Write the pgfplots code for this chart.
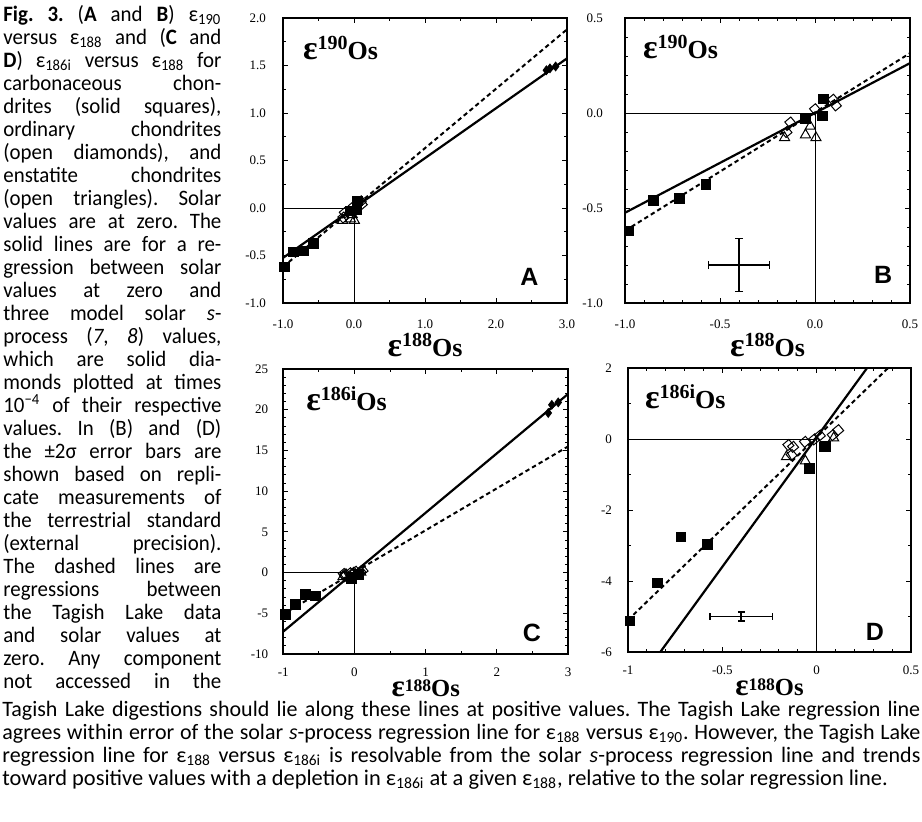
\documentclass[border=0pt]{standalone}
\usepackage{fontspec}
\usepackage{graphicx}
\usepackage{pgfplots}
\pgfplotsset{compat=1.18}
\newfontfamily\capfont{Carlito}
\newfontfamily\colfont[FakeStretch=0.95]{Carlito}
\newfontfamily\serfont{Liberation Serif}
\newfontfamily\panfont{Liberation Sans}
\frenchspacing

\newcommand\ep[1]{ε\textsubscript{#1}}
% bold isotope label, e.g. epsilon^190 Os
\newcommand\iso[1]{{\serfont\bfseries{\fontsize{17}{17}\selectfont ε}\raisebox{4.8pt}{\fontsize{10}{10}\selectfont #1}{\fontsize{13}{13}\selectfont Os}}}
\newcommand\isob[1]{{\serfont\bfseries{\fontsize{15.5}{15.5}\selectfont ε}\raisebox{2.5pt}{\fontsize{8.8}{9}\selectfont #1}{\fontsize{12.3}{12.5}\selectfont Os}}}
% justified line of a given width; squeezed if too long
\newsavebox\linebox
\newcommand\just[2]{\sbox\linebox{#2}\ifdim\wd\linebox>#1\relax
  \resizebox{#1}{\height}{\usebox\linebox}\else\makebox[#1][s]{#2}\fi}
\newcommand\capline[2]{\node[capnode, font=\colfont\fontsize{11}{11.5}\selectfont]
  at (1.5pt,{-(10.5+11.5*(#1-1))*1pt}) {\just{109pt}{#2}};}
\newcommand\botline[2]{\node[capnode] at (1pt,{-(13+11.5*(#1-1))*1pt}) {\just{459pt}{#2}};}

\pgfplotsset{
  osax/.style={scale only axis, anchor=north west, clip mode=individual,
    axis line style={line width=1pt}, tick align=inside,
    major tick length=2.6pt, minor tick length=1.4pt,
    tick style={line width=0.5pt, black},
    /pgf/number format/assume math mode=true,
    tick label style={font=\serfont\fontsize{6.5}{7}\selectfont},
    xticklabel style={yshift=-5pt}},
  onedec/.style={/pgf/number format/.cd, fixed, fixed zerofill, precision=1},
  sqm/.style={only marks, mark=square*, mark size=2.4pt, mark options={fill=black, draw=black}},
  dim/.style={only marks, mark=square, mark size=1.95pt, mark options={rotate=40, fill=white, draw=black, line width=0.5pt}},
  trm/.style={only marks, mark=triangle, mark size=2.9pt, mark options={fill=white, draw=black, line width=0.5pt}},
  mdm/.style={only marks, mark=diamond*, mark size=2.2pt, mark options={fill=black, draw=black}},
  solreg/.style={black, line width=1.1pt},
  tlreg/.style={black, line width=1pt, dash pattern=on 2.2pt off 1.6pt},
  zeroln/.style={black, line width=0.5pt},
  ebar/.style={black, mark=none, error bars/.cd, x dir=both, x explicit,
    y dir=both, y explicit, error bar style={line width=0.75pt},
    error mark options={rotate=90, mark size=#1, line width=0.75pt}},
}

\begin{document}
\begin{tikzpicture}[capnode/.style={anchor=base west, inner sep=0pt,
    font=\capfont\fontsize{11}{11.5}\selectfont}]
\path[use as bounding box] (0,0) rectangle (461pt,-410.5pt);

% caption, left column
\capline{1}{{\bfseries Fig. 3.} ({\bfseries A} and {\bfseries B}) \ep{190}}
\capline{2}{versus \ep{188} and ({\bfseries C} and}
\capline{3}{{\bfseries D}) \ep{186i} versus \ep{188} for}
\capline{4}{carbonaceous chon-}
\capline{5}{drites (solid squares),}
\capline{6}{ordinary chondrites}
\capline{7}{(open diamonds), and}
\capline{8}{enstatite chondrites}
\capline{9}{(open triangles). Solar}
\capline{10}{values are at zero. The}
\capline{11}{solid lines are for a re-}
\capline{12}{gression between solar}
\capline{13}{values at zero and}
\capline{14}{three model solar \textit{s}-}
\capline{15}{process (\textit{7}, \textit{8}) values,}
\capline{16}{which are solid dia-}
\capline{17}{monds plotted at times}
\capline{18}{10\textsuperscript{−4} of their respective}
\capline{19}{values. In (B) and (D)}
\capline{20}{the ±2σ error bars are}
\capline{21}{shown based on repli-}
\capline{22}{cate measurements of}
\capline{23}{the terrestrial standard}
\capline{24}{(external precision).}
\capline{25}{The dashed lines are}
\capline{26}{regressions between}
\capline{27}{the Tagish Lake data}
\capline{28}{and solar values at}
\capline{29}{zero. Any component}
\capline{30}{not accessed in the}
% caption, full width
\botline{31}{Tagish Lake digestions should lie along these lines at positive values. The Tagish Lake regression line}
\botline{32}{agrees within error of the solar \textit{s}-process regression line for \ep{188} versus \ep{190}. However, the Tagish Lake}
\botline{33}{regression line for \ep{188} versus \ep{186i} is resolvable from the solar \textit{s}-process regression line and trends}
\node[capnode, font=\capfont\fontsize{11.2}{11.5}\selectfont] at (1pt,{-(13+11.5*33)*1pt}) {toward positive values with a depletion in \ep{186i} at a given \ep{188}, relative to the solar regression line.};

% ---- A ----
\begin{axis}[osax, onedec, at={(141.5pt,-9pt)}, width=142pt, height=142.5pt,
  xmin=-1, xmax=3, ymin=-1, ymax=2,
  xtick={-1,0,1,2,3}, minor x tick num=1,
  ytick={-1,-0.5,0,0.5,1,1.5,2}, minor y tick num=1,
  yticklabel style={xshift=-5pt},
  xlabel={\iso{188}},
  xlabel style={at={(axis description cs:0.5,0)}, anchor=base, yshift=-26.5pt}]
\addplot[zeroln] coordinates {(-1,0) (0,0) (0,-1)};
\addplot[solreg] coordinates {(-1,-0.525) (3,1.575)};
\addplot[tlreg] coordinates {(-1,-0.62) (3,1.88)};
\addplot[dim] coordinates {(-0.13,-0.05) (-0.15,-0.10) (0.0,0.02) (0.095,0.07) (0.11,0.04)};
\addplot[trm] coordinates {(-0.16,-0.13) (-0.05,-0.115) (0.005,-0.13) (-0.025,-0.07)};
\addplot[sqm] coordinates {(-0.98,-0.62) (-0.85,-0.46) (-0.715,-0.45) (-0.575,-0.375)
  (-0.05,-0.03) (0.045,0.075) (0.04,-0.015)};
\addplot[mdm] coordinates {(2.71,1.45) (2.76,1.47) (2.84,1.49)};
\node[anchor=base west, xshift=6.5pt, yshift=-20.5pt] at (rel axis cs:0,1) {\iso{190}};
\node[font=\panfont\bfseries\fontsize{12.5}{13}\selectfont, xshift=-18.8pt, yshift=13.2pt]
  at (rel axis cs:1,0) {A};
\end{axis}

% ---- B ----
\begin{axis}[osax, onedec, at={(312.5pt,-9pt)}, width=142.5pt, height=142.5pt,
  xmin=-1, xmax=0.5, ymin=-1, ymax=0.5,
  xtick={-1,-0.5,0,0.5}, minor x tick num=4,
  ytick={-1,-0.5,0,0.5}, minor y tick num=4,
  yticklabel style={xshift=-7.5pt},
  xlabel={\iso{188}},
  xlabel style={at={(axis description cs:0.5,0)}, anchor=base, yshift=-26.5pt}]
\addplot[zeroln] coordinates {(-1,0) (0,0) (0,-1)};
\addplot[solreg] coordinates {(-1,-0.525) (0.5,0.2625)};
\addplot[tlreg] coordinates {(-1,-0.62) (0.5,0.315)};
\addplot[ebar=2pt] coordinates {(-0.4,-0.8) +- (0.16,0.14)};
\addplot[dim] coordinates {(-0.13,-0.05) (-0.15,-0.10) (0.0,0.02) (0.095,0.07) (0.11,0.04)};
\addplot[trm] coordinates {(-0.16,-0.13) (-0.05,-0.115) (0.005,-0.13) (-0.025,-0.07)};
\addplot[sqm] coordinates {(-0.98,-0.62) (-0.85,-0.46) (-0.715,-0.45) (-0.575,-0.375)
  (-0.05,-0.03) (0.045,0.075) (0.04,-0.015)};
\node[anchor=base west, xshift=5.5pt, yshift=-20pt] at (rel axis cs:0,1) {\iso{190}};
\node[font=\panfont\bfseries\fontsize{12.5}{13}\selectfont, xshift=-13.4pt, yshift=14pt]
  at (rel axis cs:1,0) {B};
\end{axis}

% ---- C ----
\begin{axis}[osax, at={(141.6pt,-184.5pt)}, width=142.5pt, height=142.5pt,
  xmin=-1, xmax=3, ymin=-10, ymax=25,
  xtick={-1,0,1,2,3}, minor x tick num=1,
  ytick={-10,-5,0,5,10,15,20,25}, minor y tick num=4,
  yticklabel style={xshift=-4pt}, xticklabel style={yshift=1.6pt},
  xlabel={\isob{188}},
  xlabel style={at={(axis description cs:0.5,0)}, anchor=base, yshift=-21pt}]
\addplot[zeroln] coordinates {(-1,0) (0,0) (0,-10)};
\addplot[solreg] coordinates {(-1,-7.25) (3,21.95)};
\addplot[tlreg] coordinates {(-1,-5.1) (3,15.5)};
\addplot[dim] coordinates {(-0.15,-0.17) (-0.125,-0.22) (-0.133,-0.45) (-0.062,-0.08)
  (-0.013,-0.01) (0.017,0.1) (0.085,0.11) (0.114,0.25)};
\addplot[trm] coordinates {(-0.16,-0.5) (-0.06,-0.62) (0.09,0.03)};
\addplot[sqm] coordinates {(-0.97,-5.12) (-0.83,-3.9) (-0.69,-2.65) (-0.55,-2.85)
  (-0.04,-0.7) (0.06,-0.2) (0.05,-0.25)};
\addplot[mdm] coordinates {(2.72,19.6) (2.77,20.6) (2.86,20.9)};
\node[anchor=base west, xshift=8pt, yshift=-20.5pt] at (rel axis cs:0,1) {\iso{186i}};
\node[font=\panfont\bfseries\fontsize{12.5}{13}\selectfont, xshift=-18.2pt, yshift=10.4pt]
  at (rel axis cs:1,0) {C};
\end{axis}

% ---- D ----
\begin{axis}[osax, at={(314pt,-184pt)}, width=141.5pt, height=142pt,
  xmin=-1, xmax=0.5, ymin=-6, ymax=2,
  xtick={-1,-0.5,0,0.5}, minor x tick num=4,
  ytick={-6,-4,-2,0,2}, minor y tick num=1,
  yticklabel style={xshift=-4.5pt}, xticklabel style={yshift=1.6pt},
  xlabel={\isob{188}},
  xlabel style={at={(axis description cs:0.5,0)}, anchor=base, yshift=-22pt}]
\addplot[zeroln] coordinates {(-1,0) (0,0) (0,-6)};
\addplot[solreg] coordinates {(-1,-7.25) (0.5,3.7)};
\addplot[tlreg] coordinates {(-1,-5.1) (0.5,2.625)};
\addplot[ebar=1.7pt] coordinates {(-0.4,-5.0) +- (0.165,0.12)};
\addplot[dim] coordinates {(-0.15,-0.17) (-0.125,-0.22) (-0.133,-0.45) (-0.062,-0.08)
  (-0.013,-0.01) (0.017,0.1) (0.085,0.11) (0.114,0.25)};
\addplot[trm] coordinates {(-0.16,-0.5) (-0.06,-0.62) (0.09,0.03)};
\addplot[sqm] coordinates {(-0.99,-5.12) (-0.845,-4.05) (-0.72,-2.76) (-0.578,-2.97)
  (-0.04,-0.82) (0.045,-0.2) (0.04,-0.22)};
\node[anchor=base west, xshift=5pt, yshift=-20pt] at (rel axis cs:0,1) {\iso{186i}};
\node[font=\panfont\bfseries\fontsize{12.5}{13}\selectfont, xshift=-18pt, yshift=10.2pt]
  at (rel axis cs:1,0) {D};
\end{axis}
\end{tikzpicture}
\end{document}
